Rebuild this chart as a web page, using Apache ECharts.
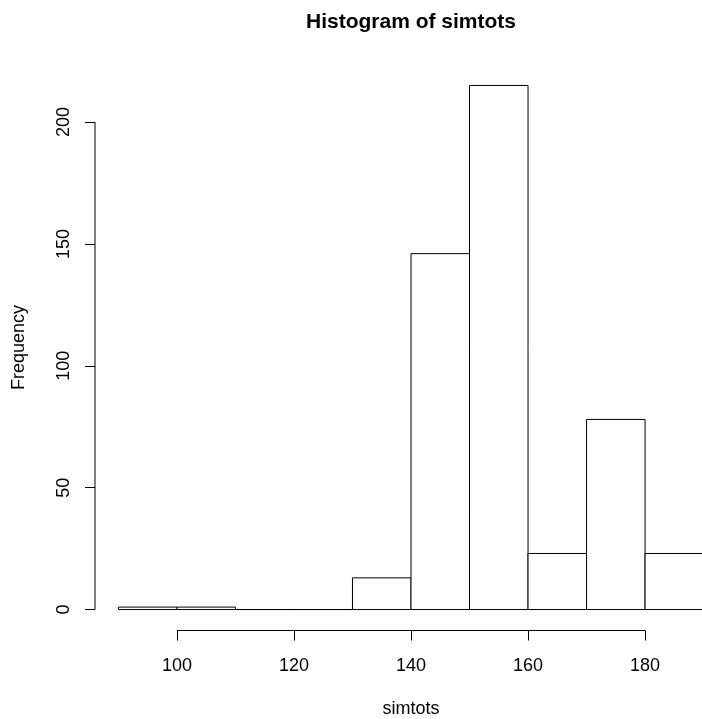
<!DOCTYPE html>
<html>
<head>
<meta charset="utf-8">
<script src="https://cdn.jsdelivr.net/npm/echarts@6/dist/echarts.min.js"></script>
<style>html,body{margin:0;padding:0;background:#fff}#c{width:702px;height:719px}</style>
</head>
<body>
<div id="c"></div>
<script>
// Histogram bins (breaks) and counts
const binStarts = [90, 100, 110, 120, 130, 140, 150, 160, 170, 180];
const binEnds   = [100, 110, 120, 130, 140, 150, 160, 170, 180, 190];
const counts    = [1, 1, 0, 0, 13, 146, 215, 23, 78, 23];
// Axis tick labels
const xTicks = [100, 120, 140, 160, 180];
const yTicks = [0, 50, 100, 150, 200];

const FONT = '"Liberation Sans", Arial, Helvetica, sans-serif';

const chart = echarts.init(document.getElementById('c'), null, {renderer: 'canvas'});

const bars = binStarts.map((s, i) => [s, binEnds[i], counts[i]]);

chart.setOption({
  backgroundColor: '#fff',
  animation: false,
  title: {
    text: 'Histogram of simtots',
    left: 411, textAlign: 'center',
    top: 12, padding: 0,
    textStyle: {fontFamily: FONT, fontSize: 21, fontWeight: 'bold', color: '#000'}
  },
  grid: {left: 95, top: 64.5, width: 632, height: 566, containLabel: false, outerBoundsMode: 'none'},
  xAxis: {
    type: 'value', min: 86, max: 194,
    name: 'simtots', nameLocation: 'middle', nameGap: 70,
    nameTextStyle: {fontFamily: FONT, fontSize: 18, color: '#000'},
    axisLine: {show: false, onZero: false},
    splitLine: {show: false},
    axisTick: {show: true, customValues: xTicks, length: 10, lineStyle: {color: '#000'}},
    axisLabel: {customValues: xTicks, margin: 27, fontFamily: FONT, fontSize: 18, color: '#000'}
  },
  yAxis: {
    type: 'value', min: -8.6, max: 223.6,
    name: 'Frequency', nameLocation: 'middle', nameGap: 67,
    nameTextStyle: {fontFamily: FONT, fontSize: 18, color: '#000'},
    axisLine: {show: false, onZero: false},
    splitLine: {show: false},
    axisTick: {show: true, customValues: yTicks, length: 10, lineStyle: {color: '#000'}},
    axisLabel: {customValues: yTicks, rotate: 90, margin: 22, fontFamily: FONT, fontSize: 18, color: '#000'}
  },
  series: [
    {
      type: 'custom',
      data: bars,
      clip: false,
      renderItem: function (params, api) {
        const p0 = api.coord([api.value(0), 0]);
        const p1 = api.coord([api.value(1), api.value(2)]);
        return {
          type: 'rect',
          shape: {x: p0[0], y: p1[1], width: p1[0] - p0[0], height: p0[1] - p1[1]},
          style: {fill: '#fff', stroke: '#000', lineWidth: 1}
        };
      }
    },
    {
      // partial axis lines spanning first to last tick, like R's axis()
      type: 'custom',
      data: [0],
      clip: false,
      silent: true,
      renderItem: function (params, api) {
        const cs = params.coordSys;
        const xa = api.coord([xTicks[0], 0])[0];
        const xb = api.coord([xTicks[xTicks.length - 1], 0])[0];
        const ya = api.coord([0, yTicks[0]])[1];
        const yb = api.coord([0, yTicks[yTicks.length - 1]])[1];
        const bottom = cs.y + cs.height;
        const left = cs.x;
        return {
          type: 'group',
          children: [
            {type: 'line', shape: {x1: xa, y1: bottom, x2: xb, y2: bottom}, style: {stroke: '#000', lineWidth: 1}},
            {type: 'line', shape: {x1: left, y1: ya, x2: left, y2: yb}, style: {stroke: '#000', lineWidth: 1}}
          ]
        };
      }
    }
  ]
});
</script>
</body>
</html>
